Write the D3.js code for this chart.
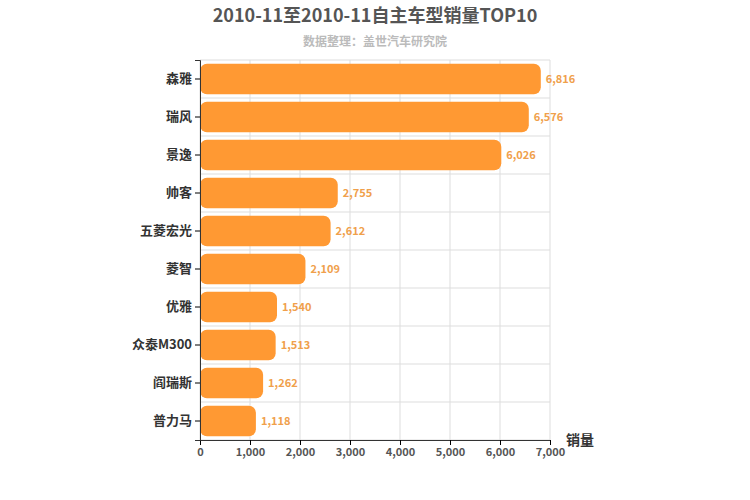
<!DOCTYPE html>
<html><head><meta charset="utf-8">
<script src="https://cdn.jsdelivr.net/npm/d3@7/dist/d3.min.js"></script>
<style>body{margin:0;background:#fff}text{font-family:"Noto Sans CJK SC","DejaVu Sans",sans-serif}</style>
</head><body><svg id="c" width="750" height="500"></svg>
<script>
const categories=["森雅","瑞风","景逸","帅客","五菱宏光","菱智","优雅","众泰M300","阎瑞斯","普力马"];
const values=[6816,6576,6026,2755,2612,2109,1540,1513,1262,1118];
const ticks=[0,1000,2000,3000,4000,5000,6000,7000];
const svg=d3.select("#c");
const L=200,R=550,T=60,B=440;
const x=d3.scaleLinear().domain([0,7000]).range([L,R]);
const y=d3.scaleBand().domain(categories).range([T,B]).paddingInner(0.2).paddingOuter(0.1);
const yb=d3.scaleBand().domain(categories).range([T,B]);
svg.append("text").attr("x",375).attr("y",22).attr("text-anchor","middle").attr("font-size",18).attr("font-weight","bold").attr("fill","#555").text("2010-11至2010-11自主车型销量TOP10");
svg.append("text").attr("x",375).attr("y",46).attr("text-anchor","middle").attr("font-size",12).attr("font-weight","bold").attr("fill","#bbb").text("数据整理：盖世汽车研究院");
const g=svg.append("g");
ticks.forEach(t=>g.append("line").attr("x1",x(t)).attr("x2",x(t)).attr("y1",T).attr("y2",B).attr("stroke","#ddd"));
categories.forEach(c=>g.append("line").attr("x1",L).attr("x2",R).attr("y1",yb(c)).attr("y2",yb(c)).attr("stroke","#ddd"));
g.append("line").attr("x1",L).attr("x2",R).attr("y1",B).attr("y2",B).attr("stroke","#ddd");
g.selectAll("rect.b").data(values).join("rect").attr("x",L).attr("y",(d,i)=>y(categories[i])).attr("width",d=>x(d)-L).attr("height",y.bandwidth()).attr("rx",7).attr("fill","#ff9933");
g.selectAll("text.v").data(values).join("text").attr("x",d=>x(d)+5).attr("y",(d,i)=>y(categories[i])+y.bandwidth()/2+4).attr("font-size",11).attr("font-weight","bold").attr("fill","#f0a04b").text(d=>d3.format(",")(d));
const ax=svg.append("g").attr("transform",`translate(0,${B})`).call(d3.axisBottom(x).tickValues(ticks).tickFormat(d3.format(",")).tickSize(5));
ax.select(".domain").attr("stroke","#333");
ax.selectAll("text").attr("font-size",11).attr("font-weight","bold").attr("fill","#555");
const ay=svg.append("g").attr("transform",`translate(${L},0)`).call(d3.axisLeft(yb).tickSize(5));
ay.select(".domain").attr("stroke","#333");
ay.selectAll("text").attr("font-size",13).attr("font-weight","bold").attr("fill","#333");
svg.append("text").attr("x",580).attr("y",445).attr("text-anchor","middle").attr("font-size",14).attr("font-weight","bold").attr("fill","#333").text("销量");
</script></body></html>
